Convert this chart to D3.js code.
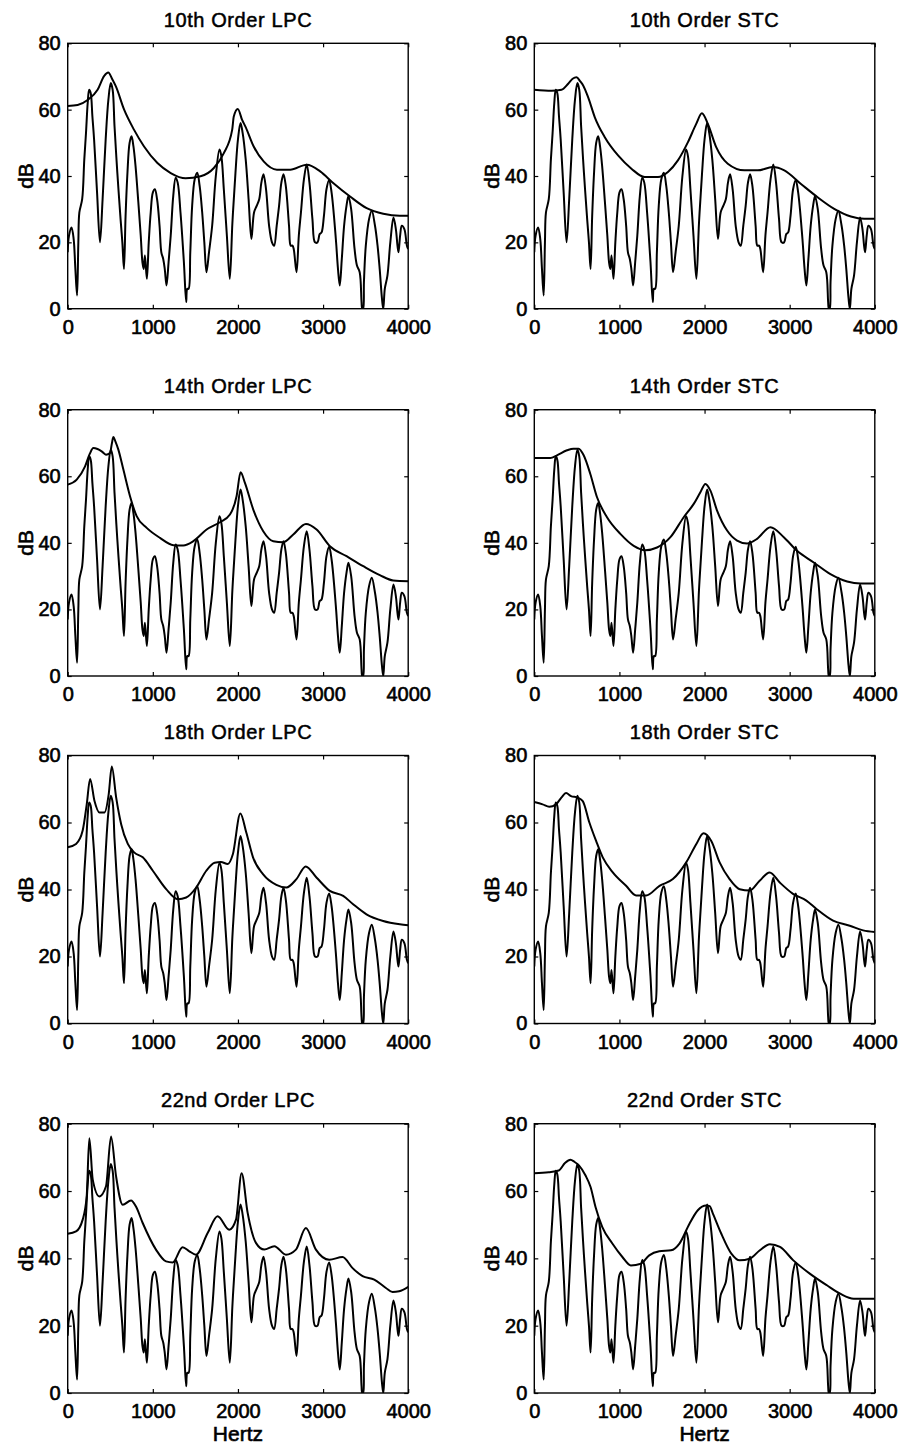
<!DOCTYPE html>
<html lang="en">
<head>
  <meta charset="UTF-8">
  <title>LPC vs STC spectral envelopes</title>
  <script src="https://d3js.org/d3.v7.min.js"></script>
  <style>
    body {
      margin: 0;
      background: #fff;
    }
    svg {
      display: block;
      font-family: "Liberation Sans", Arial, Helvetica, sans-serif;
    }
    .title {
      font-size: 20px;
      letter-spacing: 0.6px;
      text-anchor: middle;
      fill: #000;
      stroke: #000;
      stroke-width: 0.5px;
    }
    .axis text {
      font-family: "Liberation Sans", Arial, Helvetica, sans-serif;
      font-size: 20px;
      fill: #000;
      stroke: #000;
      stroke-width: 0.6px;
    }
    .axis line {
      stroke: #000;
      stroke-width: 1.2;
    }
    .axis path {
      display: none;
    }
    .label {
      font-size: 21px;
      text-anchor: middle;
      fill: #000;
      stroke: #000;
      stroke-width: 0.6px;
    }
    .frame {
      fill: none;
      stroke: #000;
      stroke-width: 1.4;
    }
    .spec, .env {
      fill: none;
      stroke: #000;
      stroke-width: 2;
      stroke-linejoin: round;
    }
  </style>
</head>
<body>
  <svg width="903" height="1448"></svg>
  <script>
    const xTicks = [0, 1000, 2000, 3000, 4000];
    const yTicks = [0, 20, 40, 60, 80];
    const titles = [
      "10th Order LPC", "10th Order STC",
      "14th Order LPC", "14th Order STC",
      "18th Order LPC", "18th Order STC",
      "22nd Order LPC", "22nd Order STC"
    ];

    // harmonic spectrum [Hz, dB], same in every panel
    const spectrum = [
      [0,17],[15,22],[45,24.5],[70,21],[90,12],[110,4],[125,20],[137,29],[170,33],[195,45],
      [215,53],[235,62],[252,66],[270,65],[290,58],[310,51],[345,35],[379,20],[410,33],[446,51],
      [478,63],[506,68],[528,66],[550,55],[583,41],[621,27],[642,20],[661,12],[680,28],[702,41],
      [727,50],[750,52],[772,49],[797,43],[830,32],[858,22],[878,14],[893,12],[907,16],[930,9],
      [952,20],[975,29],[1000,35],[1024,36],[1050,33],[1079,25],[1100,17],[1122,15],[1140,12],[1161,7],
      [1185,14],[1210,22],[1240,34],[1268,39.5],[1292,38],[1325,29],[1365,14],[1392,2],[1405,6],[1420,6],
      [1440,17],[1462,31],[1492,39],[1522,41],[1550,37],[1580,29],[1605,20],[1630,11],[1660,17],[1697,25],
      [1740,40],[1783,48],[1805,46],[1834,36],[1870,22],[1904,9],[1935,26],[1971,41],[2000,51],[2030,56],
      [2055,53],[2091,45],[2125,33],[2158,21],[2189,29],[2220,31],[2250,33],[2275,38],[2300,40.5],[2330,36],
      [2366,25],[2400,20],[2425,19],[2455,25],[2483,31],[2510,38],[2535,40.5],[2562,37],[2600,25],[2620,19],
      [2640,19],[2655,18],[2688,11],[2715,22],[2740,29],[2775,39],[2808,43.5],[2840,38],[2875,27],[2905,20],
      [2935,20],[2960,22.5],[2982,23],[3010,28],[3040,36],[3071,38.8],[3100,35],[3150,21],[3175,12],[3196,7],
      [3220,15],[3247,25],[3275,31],[3298,34],[3330,30],[3370,18],[3398,13],[3430,11],[3452,2],[3460,0],
      [3470,0],[3480,8],[3502,19],[3540,27],[3572,29.5],[3610,25],[3640,19],[3665,12],[3692,3],[3707,0],
      [3725,6],[3756,10],[3790,20],[3827,27.5],[3855,24],[3874,19],[3886,17],[3905,22],[3925,25],[3955,24],
      [3985,19],[4000,18]
    ];

    // envelopes [Hz, dB]
    const lpc10 = [
      [0,61.1],[117,61.4],[234,62.9],[351,66],[429,70.2],[476,71.2],[527,69],[566,67],[663,60],[780,53.9],
      [897,48.9],[1054,43.9],[1210,40.9],[1385,39.3],[1561,39.9],[1717,42.4],[1834,46.9],[1932,53.9],[1951,57.9],[1998,60.2],
      [2049,56.9],[2088,54.9],[2185,48.9],[2302,44.4],[2458,41.9],[2614,41.9],[2809,43.4],[2966,41.4],[3122,37.8],[3317,33.8],
      [3512,30.3],[3707,28.6],[3902,28],[4000,28]
    ];
    const stc10 = [
      [0,66],[203,65.7],[320,66],[398,67.8],[450,69.3],[496,69.8],[540,68.5],[574,67.3],[633,63.7],[711,57.7],
      [828,51.7],[984,46.2],[1141,42.2],[1297,39.7],[1453,39.7],[1570,41.2],[1687,44.7],[1805,50.2],[1902,55.7],[1969,58.9],
      [2039,55.7],[2137,48.7],[2273,43.7],[2469,41.7],[2625,41.7],[2800,42.7],[2937,41.7],[3133,37.6],[3328,33.6],[3523,30.1],
      [3719,27.8],[3875,27.1],[4000,27.1]
    ];
    const lpc14 = [
      [0,57.5],[106,59],[204,63],[260,66.8],[301,68.5],[350,68.2],[399,67.5],[450,66.5],[497,67],[520,70],
      [536,71.8],[560,70.5],[595,68],[654,62],[732,54],[810,48],[928,44.5],[1084,41.5],[1241,39.3],[1358,39.2],
      [1476,40.5],[1632,44],[1789,46.2],[1906,48.5],[1984,54],[2031,61.2],[2082,58],[2180,50],[2297,43.5],[2415,40.5],
      [2532,40.2],[2650,42.5],[2799,45.7],[2924,44],[3080,39],[3276,36],[3472,33],[3667,30.3],[3824,28.7],[4000,28.5]
    ];
    const stc14 = [
      [0,65.5],[188,65.5],[266,66.3],[384,67.8],[460,68.3],[521,68.3],[580,66.3],[658,60.7],[737,53.7],[854,47.7],
      [1011,42.7],[1168,39.1],[1305,37.8],[1442,38.6],[1599,41.7],[1755,47.7],[1873,51.7],[1951,55.2],[2010,57.7],[2069,55.7],
      [2147,49.7],[2265,43.7],[2382,40.7],[2500,39.8],[2617,41.2],[2774,44.7],[2931,41.7],[3087,37.6],[3283,34.1],[3479,30.6],
      [3675,28.4],[3832,27.8],[4000,27.8]
    ];
    const lpc18 = [
      [0,52.6],[98,53.6],[176,57.6],[224,65.5],[263,73],[314,66.5],[373,63],[431,63],[482,68.5],[518,76.7],
      [569,67.5],[628,59.5],[706,53.6],[784,51],[882,49.6],[1000,45.6],[1157,40.1],[1294,37.1],[1392,37.6],[1510,40.6],
      [1628,45.6],[1726,48],[1800,48.2],[1880,47.6],[1940,50.5],[2028,62.7],[2098,57],[2177,49.6],[2294,44.6],[2451,41.4],
      [2569,40.6],[2687,43.1],[2796,46.9],[2922,43.6],[3079,39.6],[3236,38.1],[3353,35.6],[3510,32.6],[3706,30.6],[3902,29.6],
      [4000,29.3]
    ];
    const stc18 = [
      [0,66.1],[98,65.4],[176,64.7],[255,65.4],[320,67.5],[373,68.8],[431,67.9],[510,67.4],[569,66.4],[647,60],
      [726,54.5],[804,49.6],[922,45.1],[1078,41.1],[1196,38.2],[1314,38.2],[1471,41.1],[1628,43.1],[1785,48.1],[1902,53.5],
      [1988,56.8],[2079,54.5],[2177,48.1],[2294,43.1],[2412,40.1],[2530,39.7],[2647,42.6],[2765,45.1],[2883,42.1],[3039,38.7],
      [3196,36.7],[3314,34.2],[3510,30.7],[3706,29.2],[3863,27.8],[4000,27.3]
    ];
    const lpc22 = [
      [0,47.3],[98,48],[176,51.5],[223,58.4],[254,75.7],[294,63.4],[372,58.4],[450,61.4],[509,76.2],[568,64.4],
      [646,55.9],[744,57.2],[802,55.4],[881,50.5],[1037,42.6],[1155,39.1],[1233,38.8],[1350,43.3],[1429,42.1],[1507,41.1],
      [1644,47.5],[1761,52.5],[1898,48.5],[1977,51.5],[2043,65.3],[2114,53.5],[2211,44.6],[2309,42.6],[2427,43.6],[2564,41.1],
      [2681,42.6],[2798,49],[2916,42.6],[3073,39.6],[3229,40.4],[3347,37.1],[3464,34.7],[3601,33.7],[3738,31.2],[3816,30],
      [3894,30.2],[4000,31.5]
    ];
    const stc22 = [
      [0,65.3],[169,65.6],[287,66.1],[360,68.3],[425,69.3],[470,68.7],[524,67.6],[602,64.6],[661,61.2],[720,55.2],
      [799,49.3],[917,44.4],[1035,40.4],[1134,37.9],[1252,38.4],[1350,40.9],[1468,42.1],[1606,42.4],[1705,44.4],[1823,50.3],
      [1921,54.3],[2020,55.7],[2060,55.5],[2098,53.3],[2197,47.3],[2315,41.4],[2413,39.4],[2531,39.9],[2650,42.4],[2768,44.2],
      [2886,43.4],[3043,39.4],[3240,35.4],[3437,32],[3594,29.5],[3752,28],[3870,28],[4000,28]
    ];

    const envelopes = [lpc10, stc10, lpc14, stc14, lpc18, stc18, lpc22, stc22];

    // panel boxes
    const colLeft = [67.7, 534.3], colRight = [408.2, 874.8];
    const rowTop = [43.3, 409.7, 755.5, 1123.7], rowBottom = [308.7, 676, 1023.5, 1393];

    const svg = d3.select("svg");

    titles.forEach((title, i) => {
      const row = Math.floor(i / 2), col = i % 2;
      const x = d3.scaleLinear().domain([0, 4000]).range([colLeft[col], colRight[col]]);
      const y = d3.scaleLinear().domain([0, 80]).range([rowBottom[row], rowTop[row]]);
      const g = svg.append("g");

      const clipId = "clip" + i;
      g.append("clipPath").attr("id", clipId)
        .append("rect")
        .attr("x", x(0)).attr("y", y(80))
        .attr("width", x(4000) - x(0)).attr("height", y(0) - y(80));

      const specLine = d3.line()
        .x(d => x(d[0]))
        .y(d => y(d[1]))
        .curve(d3.curveCatmullRom.alpha(0.5));
      const envLine = d3.line()
        .x(d => x(d[0]))
        .y(d => y(d[1]))
        .curve(d3.curveMonotoneX);

      const plot = g.append("g").attr("clip-path", `url(#${clipId})`);
      plot.append("path").attr("class", "spec").attr("d", specLine(spectrum));
      plot.append("path").attr("class", "env").attr("d", envLine(envelopes[i]));

      // inward ticks on all four sides
      g.append("g").attr("class", "axis")
        .attr("transform", `translate(0,${y(0)})`)
        .call(d3.axisBottom(x).tickValues(xTicks).tickSize(-4).tickPadding(11).tickFormat(d3.format("d")));
      g.append("g").attr("class", "axis")
        .attr("transform", `translate(0,${y(80)})`)
        .call(d3.axisTop(x).tickValues(xTicks).tickSize(-4).tickFormat(""));
      g.append("g").attr("class", "axis")
        .attr("transform", `translate(${x(0)},0)`)
        .call(d3.axisLeft(y).tickValues(yTicks).tickSize(-4).tickPadding(7));
      g.append("g").attr("class", "axis")
        .attr("transform", `translate(${x(4000)},0)`)
        .call(d3.axisRight(y).tickValues(yTicks).tickSize(-4).tickFormat(""));

      g.append("rect").attr("class", "frame")
        .attr("x", x(0)).attr("y", y(80))
        .attr("width", x(4000) - x(0)).attr("height", y(0) - y(80));

      g.append("text").attr("class", "title")
        .attr("x", (x(0) + x(4000)) / 2)
        .attr("y", y(80) - 16.5)
        .text(title);

      g.append("text").attr("class", "label")
        .attr("transform", `translate(${x(0) - 35},${(y(0) + y(80)) / 2}) rotate(-90)`)
        .text("dB");

      if (row === 3) {
        g.append("text").attr("class", "label")
          .attr("x", (x(0) + x(4000)) / 2)
          .attr("y", y(0) + 48)
          .text("Hertz");
      }
    });
  </script>
</body>
</html>
